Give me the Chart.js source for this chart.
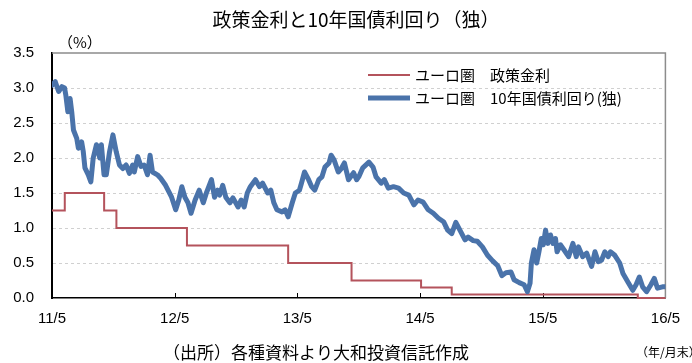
<!DOCTYPE html>
<html><head><meta charset="utf-8">
<script src="https://cdn.jsdelivr.net/npm/chart.js@4"></script>
<style>html,body{margin:0;padding:0;background:#fff;}canvas{display:block;}</style>
</head><body>
<canvas id="c" width="692" height="363"></canvas>
<script>
const titleText = '政策金利と10年国債利回り（独）';
const sourceText = '（出所）各種資料より大和投資信託作成';
const unitText = '（%）';
const periodText = '（年/月末）';
const xTickLabels = ['11/5','12/5','13/5','14/5','15/5','16/5'];
const seriesNames = ['ユーロ圏　政策金利', 'ユーロ圏　10年国債利回り(独)'];

// months elapsed since 2011/5
const policyMonths = [0, 1.25, 5.1, 6.3, 13.2, 23.1, 29.3, 36.1, 39.1, 57.3, 60];
const policyRates  = [1.25, 1.5, 1.25, 1.0, 0.75, 0.5, 0.25, 0.15, 0.05, 0.0, 0.0];

const bundMonths = [0,0.32,0.65,0.97,1.23,1.35,1.55,1.77,1.93,2.10,2.42,2.58,2.90,3.06,3.22,3.55,3.80,4.03,4.35,4.67,4.83,5.09,5.31,5.63,5.96,6.28,6.60,6.93,7.25,7.57,7.89,8.05,8.38,8.70,9.01,9.34,9.59,9.83,10.31,10.63,11.11,
  11.7,12.1,12.4,12.7,13.0,13.3,13.6,14.0,14.4,14.8,15.1,15.6,15.9,16.2,16.4,16.7,17.0,17.4,17.7,18.2,18.5,18.8,19.1,19.4,19.9,20.3,20.6,21.1,21.4,21.7,22.0,22.5,22.8,23.1,23.5,23.8,24.2,24.4,24.7,25.1,25.4,25.7,26.1,26.4,26.7,27.1,27.3,27.6,28.0,28.3,28.6,29.0,29.5,29.8,30.0,30.4,31.0,31.4,31.7,32.2,32.5,32.9,33.4,33.9,34.4,34.9,35.4,35.8,36.3,36.8,37.3,37.8,38.3,38.7,39.1,39.5,39.9,40.4,40.7,41.2,41.6,42.1,42.6,43.1,43.6,44.0,44.4,44.9,45.2,45.7,
  46.18,46.50,46.76,46.89,47.15,47.41,47.63,47.86,48.05,48.28,48.50,48.76,49.01,49.25,49.40,49.73,50.21,50.53,50.95,51.28,51.50,51.91,52.30,52.78,53.11,53.43,53.75,54.08,54.40,54.62,55.05,55.53,55.85,56.33,56.81,57.13,57.45,57.77,58.16,58.58,58.91,59.23,59.71,60];
const bundYields = [3.04,3.09,2.95,3.02,3.00,2.90,2.66,2.85,2.66,2.40,2.28,2.14,2.23,2.09,1.86,1.76,1.66,2.00,2.19,2.00,2.19,1.76,1.76,2.09,2.33,2.09,1.90,1.85,1.90,1.78,1.90,1.80,2.02,1.88,1.90,1.76,2.04,1.80,1.76,1.71,1.61,
  1.44,1.26,1.40,1.59,1.44,1.36,1.21,1.40,1.54,1.36,1.50,1.69,1.44,1.54,1.47,1.61,1.44,1.36,1.43,1.30,1.40,1.30,1.50,1.59,1.69,1.59,1.64,1.50,1.54,1.36,1.26,1.23,1.26,1.16,1.36,1.50,1.54,1.64,1.80,1.69,1.59,1.54,1.69,1.73,1.87,1.93,2.04,1.97,1.80,1.85,1.93,1.69,1.79,1.69,1.73,1.86,1.94,1.87,1.73,1.64,1.69,1.57,1.59,1.57,1.50,1.47,1.33,1.40,1.37,1.26,1.21,1.14,1.09,0.97,0.92,1.08,0.97,0.83,0.87,0.82,0.81,0.73,0.61,0.53,0.46,0.32,0.36,0.37,0.26,0.22,
  0.19,0.09,0.21,0.50,0.69,0.50,0.66,0.85,0.76,0.97,0.78,0.90,0.78,0.85,0.66,0.76,0.66,0.59,0.78,0.59,0.73,0.59,0.64,0.45,0.66,0.52,0.54,0.66,0.59,0.66,0.61,0.50,0.35,0.23,0.11,0.19,0.30,0.16,0.09,0.19,0.28,0.14,0.16,0.16];

const policyColor = '#b4535c';
const bundColor = '#4a73aa';
const jp = '"Noto Sans CJK JP", "Noto Sans", sans-serif';
const num = '"Liberation Sans", Arial, sans-serif';

const toPts = (xs, ys) => xs.map((x, i) => ({x: x, y: ys[i]}));

const decor = {
  id: 'decor',
  beforeDatasetsDraw(chart) {
    const {ctx, chartArea: a, scales} = chart;
    ctx.save();
    ctx.strokeStyle = '#8c8c8c';
    ctx.lineWidth = 1.5;
    ctx.beginPath();
    ctx.moveTo(a.left, a.top); ctx.lineTo(a.right, a.top); ctx.lineTo(a.right, a.bottom);
    ctx.stroke();
    ctx.strokeStyle = '#000';
    ctx.lineWidth = 1;
    for (let v = 12; v < 60; v += 12) {
      const px = Math.round(scales.x.getPixelForValue(v)) + 0.5;
      ctx.beginPath(); ctx.moveTo(px, a.bottom); ctx.lineTo(px, a.bottom - 5); ctx.stroke();
    }
    ctx.restore();
  },
  afterDraw(chart) {
    const {ctx} = chart;
    ctx.save();
    ctx.fillStyle = '#000';
    ctx.textBaseline = 'middle';
    ctx.textAlign = 'center';
    ctx.font = '19px ' + jp;
    ctx.fillText(titleText, 356, 20);
    ctx.font = '17px ' + jp;
    ctx.fillText(sourceText, 316, 353);
    ctx.textAlign = 'left';
    ctx.font = '15px ' + jp;
    ctx.fillText(unitText, 58, 42);
    ctx.font = '12px ' + jp;
    ctx.fillText(periodText, 636, 352);
    const ds = chart.data.datasets;
    const rows = [{i: 0, y: 75}, {i: 1, y: 98}];
    rows.forEach(r => {
      const d = ds[r.i];
      ctx.strokeStyle = d.borderColor;
      ctx.lineWidth = d.borderWidth;
      ctx.lineCap = 'butt';
      ctx.beginPath(); ctx.moveTo(368, r.y); ctx.lineTo(410, r.y); ctx.stroke();
      ctx.font = '15px ' + jp;
      ctx.fillStyle = '#000';
      ctx.fillText(d.label, 415, r.y);
    });
    ctx.restore();
  }
};

new Chart(document.getElementById('c'), {
  type: 'line',
  data: {
    datasets: [
      {label: seriesNames[0], data: toPts(policyMonths, policyRates), borderColor: policyColor, backgroundColor: policyColor,
       borderWidth: 2, stepped: true, pointRadius: 0, order: 2, clip: false},
      {label: seriesNames[1], data: toPts(bundMonths, bundYields), borderColor: bundColor, backgroundColor: bundColor,
       borderWidth: 5, tension: 0, pointRadius: 0, borderJoinStyle: 'round', borderCapStyle: 'round', order: 1}
    ]
  },
  options: {
    responsive: false,
    animation: false,
    events: [],
    layout: {padding: {top: 53, right: 19, left: 0, bottom: 0}},
    plugins: {legend: {display: false}, title: {display: false}, tooltip: {enabled: false}},
    scales: {
      x: {
        type: 'linear', min: 0, max: 60,
        afterFit(s) { s.height = 65; },
        afterBuildTicks(s) { s.ticks = xTickLabels.map((_, i) => ({value: i * 12})); },
        ticks: {
          autoSkip: false, maxRotation: 0, padding: 12, color: '#000',
          font: {family: num, size: 15},
          callback: (v) => xTickLabels[Math.round(v / 12)]
        },
        grid: {display: false, drawTicks: false},
        border: {display: true, color: '#000', width: 1.5}
      },
      y: {
        min: 0, max: 3.5,
        afterFit(s) { s.width = 52; },
        ticks: {stepSize: 0.5, padding: 18, color: '#000', font: {family: num, size: 15},
          callback: (v) => Number(v).toFixed(1)},
        grid: {
          drawTicks: false,
          color: (c) => (c.tick && (c.tick.value === 0 || c.tick.value === 3.5)) ? 'rgba(0,0,0,0)' : '#d0d0d0'
        },
        border: {display: true, color: '#000', width: 2, dash: [3, 3]}
      }
    }
  },
  plugins: [decor]
});
</script>
</body></html>
